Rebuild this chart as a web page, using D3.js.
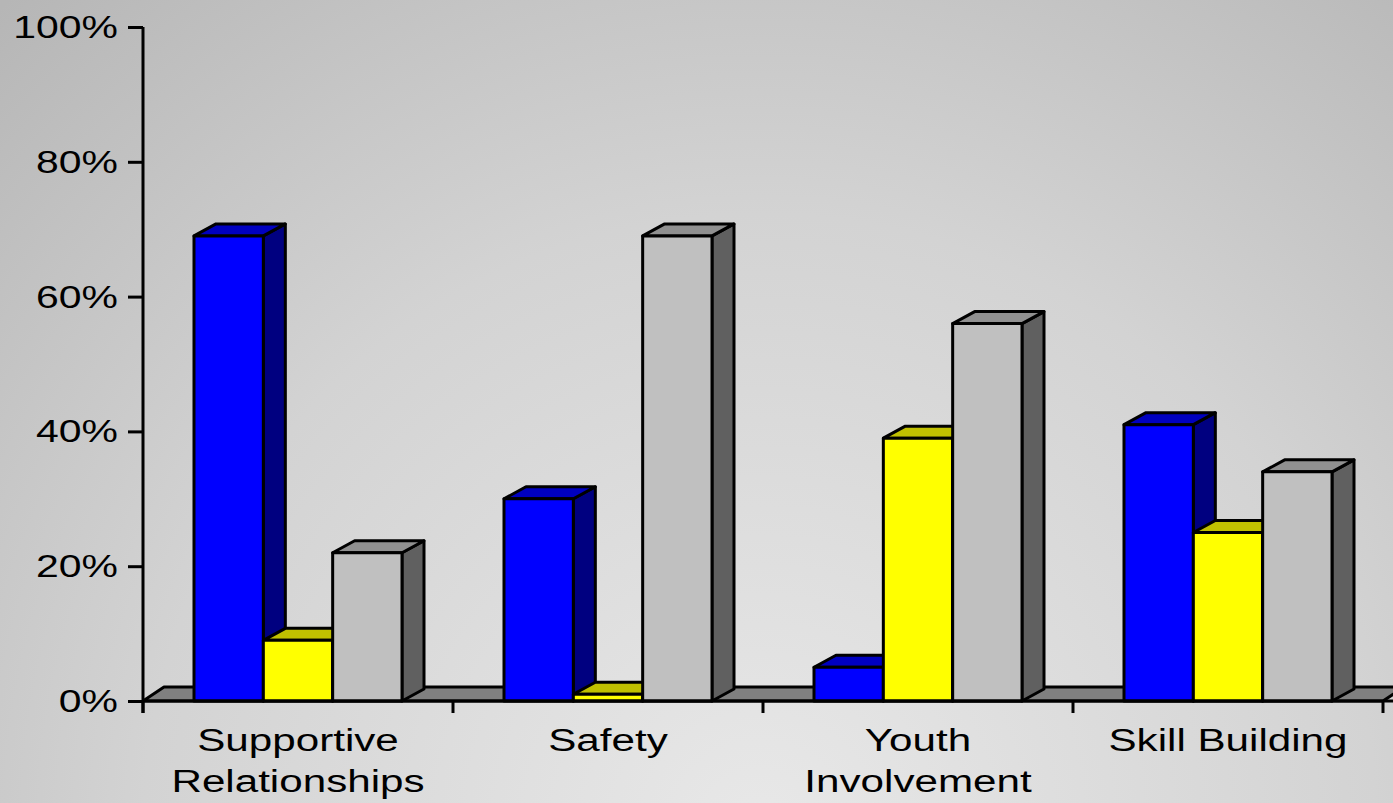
<!DOCTYPE html>
<html>
<head>
<meta charset="utf-8">
<script src="https://cdn.jsdelivr.net/npm/d3@7"></script>
<style>
  body { margin: 0; overflow: hidden; }
  text { font-family: "Liberation Sans", Arial, sans-serif; fill: #000; }
</style>
</head>
<body>
<div class="chart"></div>
<script>
var svgWidth = 1393;
var svgHeight = 803;

// data
var categories = ["Supportive Relationships", "Safety", "Youth Involvement", "Skill Building"];
var labelLines = [["Supportive", "Relationships"], ["Safety"], ["Youth", "Involvement"], ["Skill Building"]];
var seriesNames = ["blue", "yellow", "gray"];
var blueValues = [0.69, 0.30, 0.05, 0.41];
var yellowValues = [0.09, 0.01, 0.39, 0.25];
var grayValues = [0.22, 0.69, 0.56, 0.34];
var yTicks = [0, 0.2, 0.4, 0.6, 0.8, 1.0];

var seriesValues = [blueValues, yellowValues, grayValues];

// face colours: front, top, side
var faceColors = {
    blue: ["#0000ff", "#0000c0", "#000080"],
    yellow: ["#ffff00", "#c0c000", "#808000"],
    gray: ["#c0c0c0", "#909090", "#606060"]
};

var depthX = 22;
var depthY = 12;
var floorDX = 21;
var floorDY = 14;
var stretch = 1.36; // text looks horizontally stretched in the original

var svg = d3.select(".chart")
    .append("svg")
    .attr("width", svgWidth)
    .attr("height", svgHeight);

// background gradient
var defs = svg.append("defs");
var grad = defs.append("radialGradient")
    .attr("id", "bg")
    .attr("gradientUnits", "userSpaceOnUse")
    .attr("cx", 760).attr("cy", 830)
    .attr("r", 1120);
grad.append("stop").attr("offset", "0%").attr("stop-color", "#e8e8e8");
grad.append("stop").attr("offset", "55%").attr("stop-color", "#d3d3d3");
grad.append("stop").attr("offset", "100%").attr("stop-color", "#b6b6b6");

svg.append("rect")
    .attr("width", svgWidth)
    .attr("height", svgHeight)
    .attr("fill", "url(#bg)");

// scales
var xScale = d3.scaleBand()
    .domain(categories)
    .range([143, 1383])
    .padding(0);

var innerScale = d3.scaleBand()
    .domain(seriesNames)
    .range([51, xScale.bandwidth() - 51])
    .padding(0);

var yScale = d3.scaleLinear()
    .domain([0, 1])
    .range([701, 27]);

var y0 = yScale(0);

// floor
var fx0 = xScale.range()[0];
var fx1 = xScale.range()[1];
svg.append("path")
    .attr("d", `M${fx0},${y0} L${fx1},${y0} L${fx1 + floorDX},${y0 - floorDY} L${fx0 + floorDX},${y0 - floorDY} Z`)
    .attr("fill", "#808080")
    .attr("stroke", "#000")
    .attr("stroke-width", 3)
    .attr("stroke-linejoin", "round");

// bars, drawn left to right so later bars cover earlier side faces
var barsGroup = svg.append("g");

categories.forEach(function (cat, ci) {
    seriesNames.forEach(function (s, si) {
        var v = seriesValues[si][ci];
        var x = xScale(cat) + innerScale(s);
        var w = innerScale.bandwidth();
        var yt = yScale(v);
        var cols = faceColors[s];
        var g = barsGroup.append("g")
            .attr("stroke", "#000")
            .attr("stroke-width", 3)
            .attr("stroke-linejoin", "round");

        // side
        g.append("path")
            .attr("d", `M${x + w},${y0} L${x + w + depthX},${y0 - depthY} L${x + w + depthX},${yt - depthY} L${x + w},${yt} Z`)
            .attr("fill", cols[2]);
        // top
        g.append("path")
            .attr("d", `M${x},${yt} L${x + depthX},${yt - depthY} L${x + w + depthX},${yt - depthY} L${x + w},${yt} Z`)
            .attr("fill", cols[1]);
        // front
        g.append("rect")
            .attr("x", x)
            .attr("y", yt)
            .attr("width", w)
            .attr("height", y0 - yt)
            .attr("fill", cols[0]);
    });
});

// baseline
svg.append("line")
    .attr("x1", fx0).attr("x2", svgWidth)
    .attr("y1", y0).attr("y2", y0)
    .attr("stroke", "#000")
    .attr("stroke-width", 3);

// y axis
var yAxis = d3.axisLeft(yScale)
    .tickValues(yTicks)
    .tickSize(15)
    .tickFormat("");

var yAxisGroup = svg.append("g")
    .attr("transform", `translate(${fx0}, 0)`)
    .call(yAxis);

yAxisGroup.select(".domain").remove();
yAxisGroup.selectAll(".tick line")
    .attr("stroke", "#000")
    .attr("stroke-width", 3);

svg.append("line")
    .attr("x1", fx0).attr("x2", fx0)
    .attr("y1", yScale(1)).attr("y2", y0 + 12)
    .attr("stroke", "#000")
    .attr("stroke-width", 3);

// y tick labels
yTicks.forEach(function (t) {
    svg.append("text")
        .attr("transform", `translate(118, ${yScale(t) + 11}) scale(1.28,1)`)
        .attr("text-anchor", "end")
        .attr("font-size", 32)
        .text(d3.format(".0%")(t));
});

// category ticks at band edges
var edges = categories.map(function (c) { return xScale(c); }).concat([fx1]);
svg.selectAll(".cat-tick")
    .data(edges)
    .enter()
    .append("line")
    .attr("x1", d => d).attr("x2", d => d)
    .attr("y1", y0).attr("y2", y0 + 12)
    .attr("stroke", "#000")
    .attr("stroke-width", 3);

// category labels
categories.forEach(function (cat, ci) {
    var cx = xScale(cat) + xScale.bandwidth() / 2;
    labelLines[ci].forEach(function (line, li) {
        svg.append("text")
            .attr("transform", `translate(${cx}, ${751 + li * 41}) scale(${stretch},1)`)
            .attr("text-anchor", "middle")
            .attr("font-size", 31)
            .text(line);
    });
});
</script>
</body>
</html>
